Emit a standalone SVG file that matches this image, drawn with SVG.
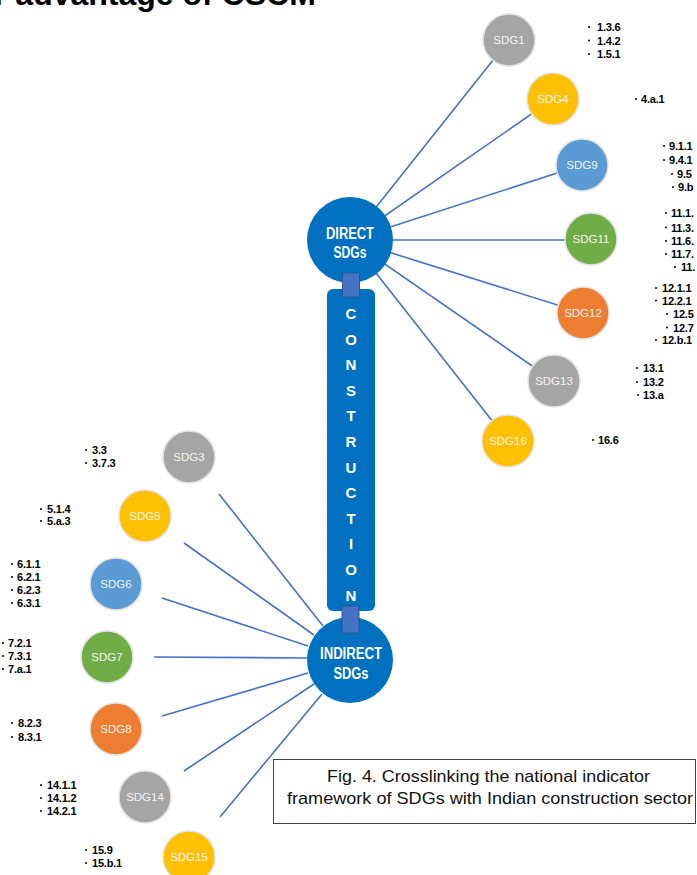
<svg xmlns="http://www.w3.org/2000/svg" width="697" height="875" viewBox="0 0 697 875">
<style>
.sat{stroke:#e2e2e2;stroke-width:1.5}
.gray{fill:#a5a5a5}.yel{fill:#ffc000}.blu{fill:#5b9bd5}.grn{fill:#70ad47}.org{fill:#ed7d31}
.st{font-family:"Liberation Sans",Arial,sans-serif;font-size:11.5px;fill:#f4f4f4;text-anchor:middle}
.lb{font-family:"Liberation Sans",Arial,sans-serif;font-size:11px;font-weight:bold;fill:#000;letter-spacing:-0.2px}
.bu{fill:#000}
.big{fill:#0070c0}
.bt{font-family:"Liberation Sans",Arial,sans-serif;font-size:16px;font-weight:bold;fill:#fff;text-anchor:middle}
.ct{font-family:"Liberation Sans",Arial,sans-serif;font-size:15px;font-weight:bold;fill:#fff;text-anchor:middle}
.sq{fill:#4472c4;stroke:#2f528f;stroke-width:1}
.cn{stroke:#4472c4;stroke-width:1.6;fill:none}
.cap{font-family:"Liberation Sans",Arial,sans-serif;font-size:17px;fill:#111;text-anchor:middle}
</style>
<text x="-6" y="5" font-family="Liberation Sans,Arial,sans-serif" font-size="32" font-weight="bold" fill="#000">r advantage of CSCM</text>

<g id="connectors">
<line class="cn" x1="350" y1="240" x2="509" y2="40"/>
<line class="cn" x1="350" y1="240" x2="553" y2="99"/>
<line class="cn" x1="350" y1="240" x2="582" y2="165"/>
<line class="cn" x1="350" y1="240" x2="591" y2="240"/>
<line class="cn" x1="350" y1="240" x2="583" y2="313"/>
<line class="cn" x1="350" y1="240" x2="554" y2="381"/>
<line class="cn" x1="350" y1="240" x2="508" y2="441"/>
<line class="cn" x1="219" y1="494" x2="323" y2="626"/>
<line class="cn" x1="184" y1="543" x2="314" y2="635"/>
<line class="cn" x1="162" y1="598" x2="308" y2="646"/>
<line class="cn" x1="154" y1="657" x2="307" y2="658"/>
<line class="cn" x1="162" y1="716" x2="308" y2="673"/>
<line class="cn" x1="184" y1="771" x2="314" y2="684"/>
<line class="cn" x1="220" y1="817" x2="322" y2="694"/>
</g>

<g id="construction">
<rect x="327" y="289" width="48" height="322" rx="6" class="big"/>
<text class="ct" x="351" y="319">C</text>
<text class="ct" x="351" y="344.6">O</text>
<text class="ct" x="351" y="370.2">N</text>
<text class="ct" x="351" y="395.8">S</text>
<text class="ct" x="351" y="421.4">T</text>
<text class="ct" x="351" y="447">R</text>
<text class="ct" x="351" y="472.6">U</text>
<text class="ct" x="351" y="498.2">C</text>
<text class="ct" x="351" y="523.8">T</text>
<text class="ct" x="351" y="549.4">I</text>
<text class="ct" x="351" y="575">O</text>
<text class="ct" x="351" y="600.6">N</text>
</g>

<g id="direct">
<circle cx="350" cy="240" r="43" class="big"/>
<text class="bt" x="350" y="238.5" textLength="48" lengthAdjust="spacingAndGlyphs">DIRECT</text>
<text class="bt" x="350" y="257.5" textLength="33" lengthAdjust="spacingAndGlyphs">SDGs</text>
</g>
<g id="indirect">
<circle cx="350" cy="660" r="43" class="big"/>
<text class="bt" x="351" y="658.5" textLength="62" lengthAdjust="spacingAndGlyphs">INDIRECT</text>
<text class="bt" x="351" y="678.5" textLength="35" lengthAdjust="spacingAndGlyphs">SDGs</text>
</g>
<rect x="342.5" y="273" width="17" height="24" class="sq"/>
<rect x="342" y="606" width="17" height="27" class="sq"/>

<g id="sdg1"><circle cx="509" cy="40" r="26" class="sat gray"/><text class="st" x="509" y="44">SDG1</text></g>
<g id="sdg4"><circle cx="553" cy="99" r="26" class="sat yel"/><text class="st" x="553" y="103">SDG4</text></g>
<g id="sdg9"><circle cx="582" cy="165" r="26" class="sat blu"/><text class="st" x="582" y="169">SDG9</text></g>
<g id="sdg11"><circle cx="591" cy="239" r="26" class="sat grn"/><text class="st" x="591" y="243">SDG11</text></g>
<g id="sdg12"><circle cx="583" cy="313" r="26" class="sat org"/><text class="st" x="583" y="317">SDG12</text></g>
<g id="sdg13"><circle cx="554" cy="381" r="26" class="sat gray"/><text class="st" x="554" y="385">SDG13</text></g>
<g id="sdg16"><circle cx="508" cy="441" r="26" class="sat yel"/><text class="st" x="508" y="445">SDG16</text></g>
<g id="sdg3"><circle cx="189" cy="457" r="26" class="sat gray"/><text class="st" x="189" y="461">SDG3</text></g>
<g id="sdg5"><circle cx="145" cy="516" r="26" class="sat yel"/><text class="st" x="145" y="520">SDG5</text></g>
<g id="sdg6"><circle cx="116" cy="584" r="26" class="sat blu"/><text class="st" x="116" y="588">SDG6</text></g>
<g id="sdg7"><circle cx="107" cy="657" r="26" class="sat grn"/><text class="st" x="107" y="661">SDG7</text></g>
<g id="sdg8"><circle cx="116" cy="729" r="26" class="sat org"/><text class="st" x="116" y="733">SDG8</text></g>
<g id="sdg14"><circle cx="145" cy="797" r="26" class="sat gray"/><text class="st" x="145" y="801">SDG14</text></g>
<g id="sdg15"><circle cx="189" cy="857" r="26" class="sat yel"/><text class="st" x="189" y="861">SDG15</text></g>

<g id="labels">
<circle class="bu" cx="589" cy="27" r="1"/><text class="lb" x="597" y="31">1.3.6</text>
<circle class="bu" cx="589" cy="40.5" r="1"/><text class="lb" x="597" y="44.5">1.4.2</text>
<circle class="bu" cx="589" cy="54" r="1"/><text class="lb" x="597" y="58">1.5.1</text>
<circle class="bu" cx="636" cy="99" r="1"/><text class="lb" x="641" y="103">4.a.1</text>
<circle class="bu" cx="664" cy="146" r="1"/><text class="lb" x="669" y="150">9.1.1</text>
<circle class="bu" cx="664" cy="160" r="1"/><text class="lb" x="669" y="164">9.4.1</text>
<circle class="bu" cx="672" cy="174" r="1"/><text class="lb" x="677" y="178">9.5</text>
<circle class="bu" cx="673" cy="187" r="1"/><text class="lb" x="678" y="191">9.b</text>
<circle class="bu" cx="666" cy="213" r="1"/><text class="lb" x="671" y="217">11.1.</text>
<circle class="bu" cx="666" cy="227.5" r="1"/><text class="lb" x="671" y="231.5">11.3.</text>
<circle class="bu" cx="666" cy="241" r="1"/><text class="lb" x="671" y="245">11.6.</text>
<circle class="bu" cx="666" cy="254" r="1"/><text class="lb" x="671" y="258">11.7.</text>
<circle class="bu" cx="675" cy="267" r="1"/><text class="lb" x="681" y="271">11.</text>
<circle class="bu" cx="656" cy="288" r="1"/><text class="lb" x="662" y="292">12.1.1</text>
<circle class="bu" cx="656" cy="300.5" r="1"/><text class="lb" x="662" y="304.5">12.2.1</text>
<circle class="bu" cx="667" cy="314" r="1"/><text class="lb" x="673" y="318">12.5</text>
<circle class="bu" cx="667" cy="327.5" r="1"/><text class="lb" x="673" y="331.5">12.7</text>
<circle class="bu" cx="656" cy="340" r="1"/><text class="lb" x="662" y="344">12.b.1</text>
<circle class="bu" cx="637" cy="368" r="1"/><text class="lb" x="643" y="372">13.1</text>
<circle class="bu" cx="637" cy="382" r="1"/><text class="lb" x="643" y="386">13.2</text>
<circle class="bu" cx="638" cy="395" r="1"/><text class="lb" x="643" y="399">13.a</text>
<circle class="bu" cx="593" cy="440" r="1"/><text class="lb" x="598" y="444">16.6</text>
<circle class="bu" cx="86" cy="450" r="1"/><text class="lb" x="92" y="454">3.3</text>
<circle class="bu" cx="86" cy="463" r="1"/><text class="lb" x="92" y="467">3.7.3</text>
<circle class="bu" cx="41" cy="509" r="1"/><text class="lb" x="47" y="513">5.1.4</text>
<circle class="bu" cx="41" cy="521" r="1"/><text class="lb" x="47" y="525">5.a.3</text>
<circle class="bu" cx="12" cy="564" r="1"/><text class="lb" x="17" y="568">6.1.1</text>
<circle class="bu" cx="12" cy="577" r="1"/><text class="lb" x="17" y="581">6.2.1</text>
<circle class="bu" cx="12" cy="590" r="1"/><text class="lb" x="17" y="594">6.2.3</text>
<circle class="bu" cx="12" cy="603" r="1"/><text class="lb" x="17" y="607">6.3.1</text>
<circle class="bu" cx="3" cy="643" r="1"/><text class="lb" x="8" y="647">7.2.1</text>
<circle class="bu" cx="3" cy="656" r="1"/><text class="lb" x="8" y="660">7.3.1</text>
<circle class="bu" cx="3" cy="669" r="1"/><text class="lb" x="8" y="673">7.a.1</text>
<circle class="bu" cx="12" cy="723" r="1"/><text class="lb" x="18" y="727">8.2.3</text>
<circle class="bu" cx="12" cy="737" r="1"/><text class="lb" x="18" y="741">8.3.1</text>
<circle class="bu" cx="41" cy="785" r="1"/><text class="lb" x="47" y="789">14.1.1</text>
<circle class="bu" cx="41" cy="798" r="1"/><text class="lb" x="47" y="802">14.1.2</text>
<circle class="bu" cx="41" cy="811" r="1"/><text class="lb" x="47" y="815">14.2.1</text>
<circle class="bu" cx="86" cy="850" r="1"/><text class="lb" x="92" y="854">15.9</text>
<circle class="bu" cx="86" cy="863" r="1"/><text class="lb" x="92" y="867">15.b.1</text>
</g>

<g id="caption">
<rect x="273.5" y="759.5" width="422" height="64" fill="#fff" stroke="#404040" stroke-width="1"/>
<text class="cap" x="488.5" y="782" textLength="323" lengthAdjust="spacingAndGlyphs">Fig. 4. Crosslinking the national indicator</text>
<text class="cap" x="490" y="804" textLength="406" lengthAdjust="spacingAndGlyphs">framework of SDGs with Indian construction sector</text>
</g>
</svg>
